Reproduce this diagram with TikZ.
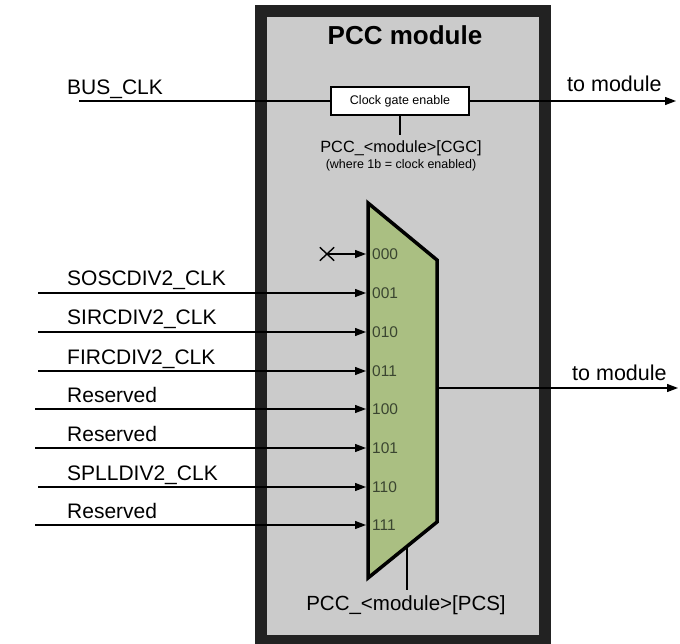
\documentclass[tikz,border=0pt]{standalone}
\usepackage{fontspec}
\setmainfont{Liberation Sans}
\usetikzlibrary{arrows.meta,shapes.misc}
\definecolor{frame}{HTML}{222222}
\definecolor{panel}{HTML}{CBCBCB}
\definecolor{muxfill}{HTML}{AABF82}
\definecolor{bitcol}{HTML}{3A4530}
\tikzset{
  wire/.style={line width=1.3pt, draw=black},
  sig/.style={wire, -{Triangle[length=11pt,width=8pt]}},
  lbl/.style={font=\fontsize{21}{24}\selectfont, anchor=base west, inner sep=0pt},
  outlbl/.style={font=\fontsize{21.5}{24}\selectfont, anchor=base west, inner sep=0pt},
  reglbl/.style={font=\fontsize{#1}{#1}\selectfont, anchor=base, inner sep=0pt},
  bit/.style={font=\fontsize{15.5}{18}\selectfont, text=bitcol, anchor=west, inner sep=0pt},
}
\begin{document}
\begin{tikzpicture}[x=1pt,y=-1pt]
\useasboundingbox (0,0) rectangle (680,644);
\fill[white] (0,0) rectangle (680,644);

% PCC module frame
\fill[frame] (255,5) rectangle (551,644);
\fill[panel] (267,17) rectangle (539,635);
\node (title) [font=\bfseries\fontsize{26}{30}\selectfont, anchor=base, inner sep=0pt] at (405,45) {PCC module};

% clock gate
\node (cg) [draw, fill=white, line width=1.2pt, minimum width=138pt, minimum height=28pt,
            inner sep=0pt, font=\fontsize{12.5}{14}\selectfont] at (400,101) {Clock gate enable};
\coordinate (busin) at (79,101);
\coordinate (cgout) at (676,101);
\node (buslbl) [lbl] at (67,95) {BUS\_CLK};
\draw[wire] (busin) -- (cg.west);
\draw[sig] (cg.east) -- (cgout);
\node (out1lbl) [outlbl] at (567,92) {to module};
\coordinate (cgcend) at (400,135);
\draw[wire] (cg.south) -- (cgcend);
\node (cgclbl) [reglbl=16.3] at (401,153) {PCC\_<module>[CGC]};
\node (cgcnote) [reglbl=12.5] at (401,168.5) {(where 1b = clock enabled)};

% clock source multiplexer
\coordinate (mtl) at (368,203);
\coordinate (mtr) at (437,260);
\coordinate (mbr) at (437,522);
\coordinate (mbl) at (368,578);
\draw[fill=muxfill, line width=3.5pt, line join=miter] (mtl) -- (mtr) -- (mbr) -- (mbl) -- cycle;

% mux inputs
\foreach \i/\y/\code in {0/254/000,1/293/001,2/332/010,3/371/011,4/409/100,5/448/101,6/487/110,7/525/111}{
  \coordinate (in\i) at (366,\y);
  \node (bit\i) [bit] at (372,\y) {\code};
}
\node (nc) [cross out, draw, line width=1.4pt, minimum width=13pt, minimum height=12pt, inner sep=0pt] at (327,254) {};
\draw[sig] (nc.center) -- (in0);

\foreach \i/\y/\x/\txt in {1/293/38/SOSCDIV2\_CLK, 2/332/38/SIRCDIV2\_CLK, 3/371/38/FIRCDIV2\_CLK,
                          4/409/35/Reserved, 5/448/35/Reserved, 6/487/38/SPLLDIV2\_CLK, 7/525/35/Reserved}{
  \coordinate (src\i) at (\x,\y);
  \node (srclbl\i) [lbl] at (67,\y-7) {\txt};
  \draw[sig] (src\i) -- (in\i);
}

% mux output
\coordinate (muxout) at (437,388);
\coordinate (out2) at (678,388);
\draw[sig] (muxout) -- (out2);
\node (out2lbl) [outlbl] at (572,380) {to module};

% select register
\coordinate (seltop) at (407,546);
\coordinate (selbot) at (407,590);
\draw[wire] (seltop) -- (selbot);
\node (pcslbl) [reglbl=20.5] at (406,610) {PCC\_<module>[PCS]};
\end{tikzpicture}
\end{document}
